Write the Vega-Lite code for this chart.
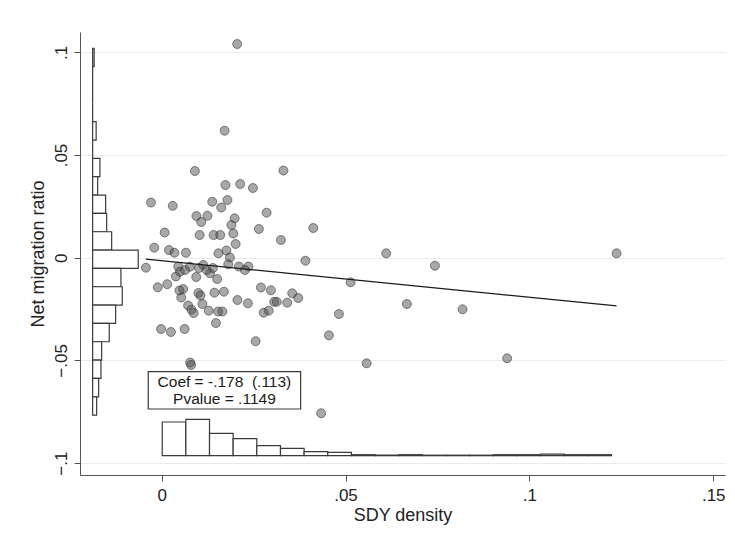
{
  "$schema": "https://vega.github.io/schema/vega-lite/v6.json",
  "width": 645,
  "height": 443,
  "autosize": {"type": "none"},
  "padding": {"left": 80, "top": 32, "right": 10, "bottom": 67},
  "background": "white",
  "config": {
    "view": {"stroke": null},
    "font": "Liberation Sans",
    "axis": {"labelFont": "Liberation Sans", "titleFont": "Liberation Sans", "titleFontWeight": "normal", "labelColor": "#222", "titleColor": "#222"}
  },
  "datasets": {
    "points": [
      {"sdy": 0.02055, "netmig": 0.10404}, {"sdy": 0.01713, "netmig": 0.06183}, {"sdy": 0.00905, "netmig": 0.04221}, {"sdy": 0.03312, "netmig": 0.04245},
      {"sdy": 0.01735, "netmig": 0.03539}, {"sdy": 0.02137, "netmig": 0.03588}, {"sdy": 0.02482, "netmig": 0.03393}, {"sdy": -0.00291, "netmig": 0.02687},
      {"sdy": 0.00302, "netmig": 0.02527}, {"sdy": 0.01376, "netmig": 0.02726}, {"sdy": 0.01789, "netmig": 0.02809}, {"sdy": 0.0162, "netmig": 0.02444},
      {"sdy": 0.02855, "netmig": 0.02191}, {"sdy": 0.00946, "netmig": 0.0203}, {"sdy": 0.01245, "netmig": 0.0204}, {"sdy": 0.01077, "netmig": 0.01738},
      {"sdy": 0.01985, "netmig": 0.01918}, {"sdy": 0.01898, "netmig": 0.01592}, {"sdy": 0.02645, "netmig": 0.01397}, {"sdy": 0.04122, "netmig": 0.01446},
      {"sdy": 0.00082, "netmig": 0.01227}, {"sdy": 0.01033, "netmig": 0.01105}, {"sdy": 0.01414, "netmig": 0.01105}, {"sdy": 0.01593, "netmig": 0.01105},
      {"sdy": 0.01947, "netmig": 0.01178}, {"sdy": 0.03244, "netmig": 0.00862}, {"sdy": 0.02012, "netmig": 0.00667}, {"sdy": -0.00201, "netmig": 0.00487},
      {"sdy": 0.00198, "netmig": 0.00375}, {"sdy": 0.00348, "netmig": 0.00243}, {"sdy": 0.00661, "netmig": 0.00243}, {"sdy": 0.01544, "netmig": 0.00214},
      {"sdy": 0.01762, "netmig": 0.00351}, {"sdy": 0.01857, "netmig": 0.0001}, {"sdy": 0.0391, "netmig": -0.00146}, {"sdy": -0.00427, "netmig": -0.00487},
      {"sdy": 0.00451, "netmig": -0.00438}, {"sdy": 0.00769, "netmig": -0.00438}, {"sdy": 0.01131, "netmig": -0.00355}, {"sdy": 0.01224, "netmig": -0.00599},
      {"sdy": 0.01811, "netmig": -0.00321}, {"sdy": 0.02102, "netmig": -0.00428}, {"sdy": 0.0236, "netmig": -0.00428}, {"sdy": 0.02265, "netmig": -0.00599},
      {"sdy": 0.00498, "netmig": -0.00682}, {"sdy": 0.00634, "netmig": -0.00599}, {"sdy": 0.01313, "netmig": -0.00759}, {"sdy": 0.01395, "netmig": -0.00501},
      {"sdy": 0.01014, "netmig": -0.00501}, {"sdy": 0.00389, "netmig": -0.00915}, {"sdy": 0.00941, "netmig": -0.0094}, {"sdy": 0.01509, "netmig": -0.01037},
      {"sdy": -0.00106, "netmig": -0.01441}, {"sdy": 0.00152, "netmig": -0.0129}, {"sdy": 0.00585, "netmig": -0.01524}, {"sdy": 0.00484, "netmig": -0.01597},
      {"sdy": 0.00533, "netmig": -0.01938}, {"sdy": 0.01001, "netmig": -0.01719}, {"sdy": 0.01055, "netmig": -0.0184}, {"sdy": 0.01436, "netmig": -0.01704},
      {"sdy": 0.01694, "netmig": -0.01655}, {"sdy": 0.027, "netmig": -0.01451}, {"sdy": 0.02972, "netmig": -0.01587}, {"sdy": 0.03551, "netmig": -0.01733},
      {"sdy": 0.03714, "netmig": -0.01962}, {"sdy": 0.02061, "netmig": -0.02059}, {"sdy": 0.02346, "netmig": -0.0222}, {"sdy": 0.03059, "netmig": -0.02147},
      {"sdy": 0.0313, "netmig": -0.02147}, {"sdy": 0.03415, "netmig": -0.02191}, {"sdy": 0.01109, "netmig": -0.02254}, {"sdy": 0.0072, "netmig": -0.02327},
      {"sdy": 0.0081, "netmig": -0.02532}, {"sdy": 0.0087, "netmig": -0.02692}, {"sdy": 0.01281, "netmig": -0.0258}, {"sdy": 0.01536, "netmig": -0.02619},
      {"sdy": 0.01653, "netmig": -0.02619}, {"sdy": 0.02776, "netmig": -0.02678}, {"sdy": 0.02912, "netmig": -0.0258}, {"sdy": 0.01476, "netmig": -0.03179},
      {"sdy": -0.00014, "netmig": -0.03471}, {"sdy": 0.00253, "netmig": -0.03617}, {"sdy": 0.00625, "netmig": -0.03471}, {"sdy": 0.02556, "netmig": -0.04065},
      {"sdy": 0.04549, "netmig": -0.03778}, {"sdy": 0.00775, "netmig": -0.05102}, {"sdy": 0.00802, "netmig": -0.05224}, {"sdy": 0.06107, "netmig": 0.00214},
      {"sdy": 0.07431, "netmig": -0.0039}, {"sdy": 0.12371, "netmig": 0.00214}, {"sdy": 0.05139, "netmig": -0.01198}, {"sdy": 0.04821, "netmig": -0.02741},
      {"sdy": 0.06669, "netmig": -0.02254}, {"sdy": 0.08184, "netmig": -0.02512}, {"sdy": 0.05574, "netmig": -0.05141}, {"sdy": 0.09396, "netmig": -0.04898},
      {"sdy": 0.04339, "netmig": -0.07575}
    ],
    "fit": [
      {"sdy": -0.00427, "netmig": -0.00072},
      {"sdy": 0.12371, "netmig": -0.0235}
    ],
    "yhist": [
      {"lo": 0.09302, "hi": 0.10195, "base": -0.01876, "end": -0.01835},
      {"lo": 0.08409, "hi": 0.09302, "base": -0.01876, "end": -0.01876},
      {"lo": 0.07516, "hi": 0.08409, "base": -0.01876, "end": -0.01876},
      {"lo": 0.06623, "hi": 0.07516, "base": -0.01876, "end": -0.01876},
      {"lo": 0.0573, "hi": 0.06623, "base": -0.01876, "end": -0.01781},
      {"lo": 0.04837, "hi": 0.0573, "base": -0.01876, "end": -0.01876},
      {"lo": 0.03944, "hi": 0.04837, "base": -0.01876, "end": -0.01678},
      {"lo": 0.03051, "hi": 0.03944, "base": -0.01876, "end": -0.0174},
      {"lo": 0.02158, "hi": 0.03051, "base": -0.01876, "end": -0.01523},
      {"lo": 0.01265, "hi": 0.02158, "base": -0.01876, "end": -0.01495},
      {"lo": 0.00372, "hi": 0.01265, "base": -0.01876, "end": -0.01359},
      {"lo": -0.00521, "hi": 0.00372, "base": -0.01876, "end": -0.00636},
      {"lo": -0.01414, "hi": -0.00521, "base": -0.01876, "end": -0.01107},
      {"lo": -0.02307, "hi": -0.01414, "base": -0.01876, "end": -0.01071},
      {"lo": -0.032, "hi": -0.02307, "base": -0.01876, "end": -0.01251},
      {"lo": -0.04093, "hi": -0.032, "base": -0.01876, "end": -0.01425},
      {"lo": -0.04986, "hi": -0.04093, "base": -0.01876, "end": -0.01631},
      {"lo": -0.05879, "hi": -0.04986, "base": -0.01876, "end": -0.0165},
      {"lo": -0.06772, "hi": -0.05879, "base": -0.01876, "end": -0.01713},
      {"lo": -0.07665, "hi": -0.06772, "base": -0.01876, "end": -0.01767}
    ],
    "xhist": [
      {"lo": 0.00016, "hi": 0.00659, "base": -0.0964, "top": -0.07999},
      {"lo": 0.00659, "hi": 0.01302, "base": -0.0964, "top": -0.07873},
      {"lo": 0.01302, "hi": 0.01945, "base": -0.0964, "top": -0.08554},
      {"lo": 0.01945, "hi": 0.02588, "base": -0.0964, "top": -0.08812},
      {"lo": 0.02588, "hi": 0.03232, "base": -0.0964, "top": -0.09153},
      {"lo": 0.03232, "hi": 0.03875, "base": -0.0964, "top": -0.09285},
      {"lo": 0.03875, "hi": 0.04518, "base": -0.0964, "top": -0.09445},
      {"lo": 0.04518, "hi": 0.05161, "base": -0.0964, "top": -0.09479},
      {"lo": 0.05161, "hi": 0.05804, "base": -0.0964, "top": -0.09591},
      {"lo": 0.05804, "hi": 0.06447, "base": -0.0964, "top": -0.09611},
      {"lo": 0.06447, "hi": 0.0709, "base": -0.0964, "top": -0.09591},
      {"lo": 0.0709, "hi": 0.07733, "base": -0.0964, "top": -0.09616},
      {"lo": 0.07733, "hi": 0.08376, "base": -0.0964, "top": -0.09616},
      {"lo": 0.08376, "hi": 0.09019, "base": -0.0964, "top": -0.09616},
      {"lo": 0.09019, "hi": 0.09662, "base": -0.0964, "top": -0.09591},
      {"lo": 0.09662, "hi": 0.10305, "base": -0.0964, "top": -0.09591},
      {"lo": 0.10305, "hi": 0.10948, "base": -0.0964, "top": -0.09567},
      {"lo": 0.10948, "hi": 0.11591, "base": -0.0964, "top": -0.09591},
      {"lo": 0.11591, "hi": 0.12234, "base": -0.0964, "top": -0.09591}
    ],
    "box": [
      {"x0": -0.00364, "x1": 0.03779, "y0": -0.0555, "y1": -0.07366}
    ],
    "labels": [
      {"sdy": 0.01707, "netmig": -0.0605, "text": "Coef = -.178\u00a0 (.113)"},
      {"sdy": 0.01707, "netmig": -0.0688, "text": "Pvalue = .1149"}
    ]
  },
  "layer": [
    {
      "data": {"name": "yhist"},
      "mark": {"type": "rect", "fill": "white", "stroke": "#3a3a3a", "strokeWidth": 1.2},
      "encoding": {
        "y": {"field": "lo", "type": "quantitative", "title": "Net migration ratio",
          "scale": {"domain": [-0.1058, 0.1099], "nice": false, "zero": false},
          "axis": {"values": [-0.1, -0.05, 0, 0.05, 0.1], "labelExpr": "replace(format(datum.value, '~g'), '0.', '.')",
            "grid": true, "gridColor": "#e3eded", "gridWidth": 1, "domainColor": "#555", "tickColor": "#555", "tickSize": 6,
            "labelAngle": -90, "labelAlign": "center", "labelBaseline": "bottom", "labelFontSize": 17, "titleFontSize": 18,
            "labelPadding": 4, "titlePadding": 5, "labelFlush": false, "labelOverlap": false}},
        "y2": {"field": "hi"},
        "x": {"field": "base", "type": "quantitative", "title": "SDY density",
          "scale": {"domain": [-0.0222, 0.1532], "nice": false, "zero": false},
          "axis": {"values": [0, 0.05, 0.1, 0.15], "labelExpr": "replace(format(datum.value, '~g'), '0.', '.')",
            "grid": false, "domainColor": "#555", "tickColor": "#555", "tickSize": 6, "labelFontSize": 17, "titleFontSize": 18,
            "labelPadding": 6, "titlePadding": 3, "labelFlush": false, "labelOverlap": false}},
        "x2": {"field": "end"}
      }
    },
    {
      "data": {"name": "xhist"},
      "mark": {"type": "rect", "fill": "white", "stroke": "#3a3a3a", "strokeWidth": 1.2},
      "encoding": {
        "x": {"field": "lo", "type": "quantitative", "title": "SDY density"},
        "x2": {"field": "hi"},
        "y": {"field": "base", "type": "quantitative", "title": "Net migration ratio"},
        "y2": {"field": "top"}
      }
    },
    {
      "data": {"name": "points"},
      "mark": {"type": "circle", "size": 80, "fill": "#4a4a4a", "fillOpacity": 0.48, "stroke": "#3a3a3a", "strokeOpacity": 0.6, "strokeWidth": 1},
      "encoding": {
        "x": {"field": "sdy", "type": "quantitative", "title": "SDY density"},
        "y": {"field": "netmig", "type": "quantitative", "title": "Net migration ratio"}
      }
    },
    {
      "data": {"name": "fit"},
      "mark": {"type": "line", "color": "#1a1a1a", "strokeWidth": 1.3},
      "encoding": {
        "x": {"field": "sdy", "type": "quantitative", "title": "SDY density"},
        "y": {"field": "netmig", "type": "quantitative", "title": "Net migration ratio"}
      }
    },
    {
      "data": {"name": "box"},
      "mark": {"type": "rect", "fill": "white", "stroke": "#3a3a3a", "strokeWidth": 1.2},
      "encoding": {
        "x": {"field": "x0", "type": "quantitative", "title": "SDY density"},
        "x2": {"field": "x1"},
        "y": {"field": "y0", "type": "quantitative", "title": "Net migration ratio"},
        "y2": {"field": "y1"}
      }
    },
    {
      "data": {"name": "labels"},
      "mark": {"type": "text", "font": "Liberation Sans", "fontSize": 15.5, "color": "#1a1a1a", "align": "center", "baseline": "middle"},
      "encoding": {
        "x": {"field": "sdy", "type": "quantitative", "title": "SDY density"},
        "y": {"field": "netmig", "type": "quantitative", "title": "Net migration ratio"},
        "text": {"field": "text"}
      }
    }
  ]
}
